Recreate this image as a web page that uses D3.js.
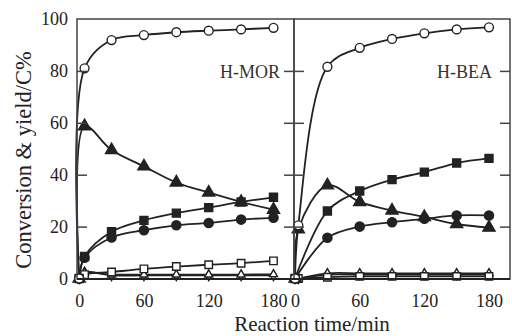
<!DOCTYPE html>
<html>
<head>
<meta charset="utf-8">
<script src="https://cdn.jsdelivr.net/npm/d3@7"></script>
<style>
  body { margin: 0; background: #fff; }
  svg { display: block; }
  text { font-family: "Liberation Serif", "DejaVu Serif", serif; }
</style>
</head>
<body>
<div id="chart"></div>
<script>
// Two-panel conversion / yield plot (H-MOR and H-BEA)
const width = 512;
const height = 336;

// time points (min)
const timeMOR = [0, 5, 30, 60, 90, 120, 150, 180];
const timeBEA = [0, 3, 30, 60, 90, 120, 150, 180];

// H-MOR series (C%)
const morConv = [0, 81, 91.9, 93.8, 94.9, 95.5, 96, 96.6];
const morTri = [0, 58.7, 49.5, 43.2, 37, 33.1, 29.5, 26.5];
const morSq = [0, 8.5, 18, 22.4, 25.2, 27.3, 29.5, 31.3];
const morDot = [0, 8, 15.8, 18.6, 20.5, 21.4, 22.7, 23.4];
const morOpenSq = [0, 1.5, 2.5, 3.7, 4.6, 5.3, 5.9, 6.8];
const morOpenTri = [0, 2.2, 1.5, 1.5, 1.5, 1.5, 1.5, 1.6];
const morOpenDia = [0, 2.4, 1.2, 1.2, 1.2, 1.2, 1.2, 1.2];

// H-BEA series (C%)
const beaConv = [0, 20.5, 81.6, 88.9, 92.3, 94.5, 96, 96.8];
const beaTri = [0, 19, 35.9, 29.5, 26.2, 23.7, 21, 19.6];
const beaSq = [0, null, 26, 33.7, 38.1, 41, 44.5, 46.3];
const beaDot = [0, null, 15.7, 20, 21.7, 23, 24.3, 24.3];
const beaOpenSq = [0, 0, 0.5, 0.8, 0.8, 0.8, 0.8, 0.8];
const beaOpenTri = [0, 0, 2, 2, 2, 2, 2, 2];
const beaOpenDia = [0, 0, 1.5, 1.5, 1.5, 1.5, 1.5, 1.5];

const yTicks = [0, 20, 40, 60, 80, 100];
const xTicks = [0, 60, 120, 180];

const ink = '#222';

const plotTop = 19, plotBottom = 279;

const yScale = d3.scaleLinear().domain([0, 100]).range([278.5, plotTop]);

const panels = [
    {
        name: 'H-MOR',
        x0: 77, x1: 294, labelX: 280,
        domain: [-2, 199],
        time: timeMOR,
        series: [morOpenDia, morOpenTri, morOpenSq, morDot, morSq, morTri, morConv]
    },
    {
        name: 'H-BEA',
        x0: 294, x1: 510, labelX: 492,
        domain: [-1, 199.5],
        time: timeBEA,
        series: [beaOpenDia, beaOpenTri, beaOpenSq, beaDot, beaSq, beaTri, beaConv]
    }
];

// marker style per series index (same order as panel.series)
const markers = [
    {type: d3.symbolDiamond, size: 30, fill: '#fff'},
    {type: d3.symbolTriangle, size: 28, fill: '#fff'},
    {type: d3.symbolSquare, size: 56, fill: '#fff'},
    {type: d3.symbolCircle, size: 66, fill: ink},
    {type: d3.symbolSquare, size: 64, fill: ink},
    {type: d3.symbolTriangle, size: 64, fill: ink},
    {type: d3.symbolCircle, size: 62, fill: '#fff'}
];

const svg = d3.select('#chart')
    .append('svg')
    .attr('width', width)
    .attr('height', height);

panels.forEach((p, pi) => {
    const xScale = d3.scaleLinear().domain(p.domain).range([p.x0, p.x1]);

    const g = svg.append('g');

    const line = d3.line()
        .x(d => xScale(d[0]))
        .y(d => yScale(d[1]))
        .curve(d3.curveCatmullRom.alpha(0.5));

    p.series.forEach(vals => {
        const pts = p.time.map((t, i) => [t, vals[i]]).filter(d => d[1] != null);
        g.append('path')
            .datum(pts)
            .attr('fill', 'none')
            .attr('stroke', ink)
            .attr('stroke-width', 1.8)
            .attr('d', line);
    });

    p.series.forEach((vals, si) => {
        const m = markers[si];
        const pts = p.time.map((t, i) => [t, vals[i]]).filter(d => d[1] != null);
        g.selectAll(null)
            .data(pts)
            .join('path')
            .attr('transform', d => `translate(${xScale(d[0])},${yScale(d[1])})`)
            .attr('d', d3.symbol().type(m.type).size(m.size))
            .attr('fill', m.fill)
            .attr('stroke', ink)
            .attr('stroke-width', 1.4);
    });

    // frame
    svg.append('rect')
        .attr('x', p.x0)
        .attr('y', plotTop)
        .attr('width', p.x1 - p.x0)
        .attr('height', plotBottom - plotTop)
        .attr('fill', 'none')
        .attr('stroke', '#444')
        .attr('stroke-width', 1.5);

    // inward y ticks on both sides
    const left = svg.append('g')
        .attr('transform', `translate(${p.x0},0)`)
        .call(d3.axisLeft(yScale).tickValues(yTicks.slice(1, -1)).tickSizeInner(-10).tickSizeOuter(0));
    const right = svg.append('g')
        .attr('transform', `translate(${p.x1},0)`)
        .call(d3.axisRight(yScale).tickValues(yTicks.slice(1, -1)).tickSizeInner(-10).tickSizeOuter(0));
    [left, right].forEach(a => {
        a.select('.domain').remove();
        a.selectAll('text').remove();
        a.selectAll('line').attr('stroke', '#444').attr('stroke-width', 1.5);
    });
    if (pi === 0) {
        const labels = svg.append('g')
            .attr('transform', `translate(${p.x0},0)`)
            .call(d3.axisLeft(yScale).tickValues(yTicks).tickSize(0).tickPadding(9));
        labels.select('.domain').remove();
        labels.selectAll('text')
            .attr('font-size', '18px')
            .attr('fill', ink);
    }

    // x tick labels
    const xa = svg.append('g')
        .attr('transform', `translate(0,${plotBottom})`)
        .call(d3.axisBottom(xScale).tickValues(xTicks).tickSize(0).tickPadding(15));
    xa.select('.domain').remove();
    xa.selectAll('text')
        .attr('font-size', '18px')
        .attr('fill', ink);

    // panel label
    svg.append('text')
        .attr('x', p.labelX)
        .attr('y', 78)
        .attr('text-anchor', 'end')
        .attr('font-size', '18px')
        .attr('fill', '#333')
        .text(p.name);
});

svg.selectAll('g').attr('font-family', null);

// bottom frame line a little heavier
svg.append('line')
    .attr('x1', 77).attr('x2', 510)
    .attr('y1', plotBottom).attr('y2', plotBottom)
    .attr('stroke', ink)
    .attr('stroke-width', 2);

// axis titles
svg.append('text')
    .attr('x', 312)
    .attr('y', 331)
    .attr('text-anchor', 'middle')
    .attr('font-size', '21px')
    .attr('fill', ink)
    .text('Reaction time/min');

svg.append('text')
    .attr('transform', 'translate(31,160) rotate(-90)')
    .attr('text-anchor', 'middle')
    .attr('font-size', '22.5px')
    .attr('fill', ink)
    .text('Conversion & yield/C%');
</script>
</body>
</html>
